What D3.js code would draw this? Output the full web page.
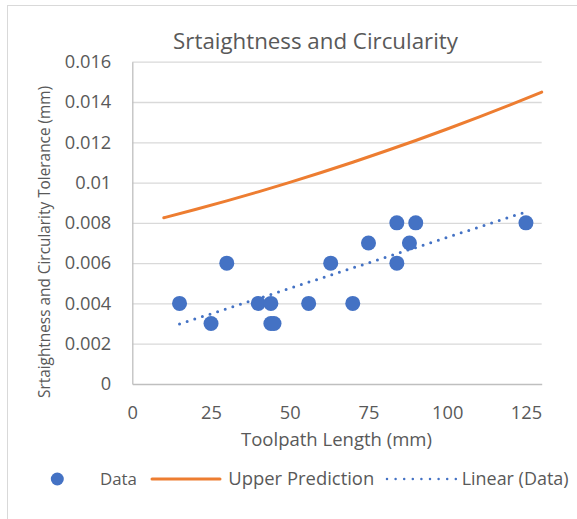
<!DOCTYPE html>
<html>
<head>
<meta charset="utf-8">
<script src="https://cdn.jsdelivr.net/npm/d3@7"></script>
<style>
  body { margin: 0; background: #fff; }
  svg text { font-family: "Open Sans", Lato, sans-serif; fill: #595959; }
</style>
</head>
<body>
<svg id="chart" width="577" height="519"></svg>
<script>
// Measured samples: toolpath length (mm) vs. straightness/circularity tolerance (mm)
const toolpathLength = [15, 25, 30, 40, 44, 44, 45, 56, 63, 70, 75, 84, 84, 88, 90, 125];
const tolerance = [0.004, 0.003, 0.006, 0.004, 0.004, 0.003, 0.003, 0.004, 0.006, 0.004, 0.007, 0.008, 0.006, 0.007, 0.008, 0.008];

// Upper prediction bound
const upperLength = [10, 20, 30, 40, 50, 60, 70, 80, 90, 100, 110, 120, 130];
const upperTolerance = [0.00825, 0.00866, 0.00909, 0.00954, 0.01001, 0.0105, 0.01101, 0.01154, 0.01209, 0.01266, 0.01325, 0.01386, 0.01449];

// Axis ticks
const xTicks = [0, 25, 50, 75, 100, 125];
const yTicks = [0, 0.002, 0.004, 0.006, 0.008, 0.01, 0.012, 0.014, 0.016];
const yTickLabels = ["0", "0.002", "0.004", "0.006", "0.008", "0.01", "0.012", "0.014", "0.016"];

const blue = "#4472C4", orange = "#ED7D31", grid = "#d9d9d9", axisGrey = "#bfbfbf";

const svg = d3.select("#chart");
const plot = { left: 132.3, right: 541.7, top: 61.7, bottom: 384 };

const x = d3.scaleLinear().domain([0, 130]).range([plot.left, plot.right]);
const y = d3.scaleLinear().domain([0, 0.016]).range([plot.bottom, plot.top]);

// scale a text's font size so it spans the given width
function fit(sel, width) {
  const fs = +sel.attr("font-size");
  const w = sel.node().getComputedTextLength();
  sel.attr("font-size", (fs * width / w).toFixed(2));
  return sel;
}

// chart frame
svg.append("rect")
  .attr("x", 7.5).attr("y", 5.5).attr("width", 640).attr("height", 640)
  .attr("fill", "#fff").attr("stroke", grid).attr("stroke-width", 1);

// horizontal gridlines
svg.append("g")
  .attr("transform", `translate(${plot.left},0)`)
  .call(d3.axisLeft(y).tickValues(yTicks.slice(1)).tickSize(-(plot.right - plot.left)).tickFormat(""))
  .call(g => g.select(".domain").remove())
  .call(g => g.selectAll("line").attr("stroke", grid).attr("stroke-width", 1.3));

// tick label size from the widest y label
const probe = svg.append("text").attr("font-size", 16).text("0.016");
fit(probe, 46.5);
const tickSize = +probe.attr("font-size");
probe.remove();

// y axis labels
svg.append("g")
  .attr("transform", `translate(${plot.left},0)`)
  .call(d3.axisLeft(y).tickValues(yTicks).tickSize(0).tickPadding(21)
    .tickFormat((d, i) => yTickLabels[i]))
  .call(g => g.select(".domain").attr("stroke", axisGrey).attr("stroke-width", 1.3))
  .call(g => g.selectAll("text").attr("font-size", tickSize).attr("font-family", null).attr("fill", "#595959"));

// x axis
svg.append("g")
  .attr("transform", `translate(0,${plot.bottom})`)
  .call(d3.axisBottom(x).tickValues(xTicks).tickSize(0).tickPadding(22))
  .call(g => g.select(".domain").attr("stroke", axisGrey).attr("stroke-width", 1.3))
  .call(g => g.selectAll("text").attr("font-size", tickSize).attr("font-family", null).attr("fill", "#595959"));
svg.selectAll(".tick text").style("font-family", "'Open Sans', Lato, sans-serif");

// upper prediction curve
const upperPts = upperLength.map((d, i) => [d, upperTolerance[i]]);
svg.append("path")
  .datum(upperPts)
  .attr("fill", "none").attr("stroke", orange).attr("stroke-width", 3)
  .attr("stroke-linecap", "round")
  .attr("d", d3.line().x(d => x(d[0])).y(d => y(d[1])).curve(d3.curveNatural));

// data points
const pts = toolpathLength.map((d, i) => [d, tolerance[i]]);
svg.append("g").selectAll("circle")
  .data(pts).join("circle")
  .attr("cx", d => x(d[0])).attr("cy", d => y(d[1]))
  .attr("r", 7.5).attr("fill", blue);

// least-squares linear trendline over the data range
const mx = d3.mean(toolpathLength), my = d3.mean(tolerance);
const sxy = d3.sum(pts, d => (d[0] - mx) * (d[1] - my));
const sxx = d3.sum(pts, d => (d[0] - mx) ** 2);
const slope = sxy / sxx, intercept = my - slope * mx;
const [xmin, xmax] = d3.extent(toolpathLength);
svg.append("line")
  .attr("x1", x(xmin)).attr("y1", y(intercept + slope * xmin))
  .attr("x2", x(xmax)).attr("y2", y(intercept + slope * xmax))
  .attr("stroke", blue).attr("stroke-width", 3)
  .attr("stroke-linecap", "round").attr("stroke-dasharray", "0 8");

// titles
fit(svg.append("text")
  .attr("x", 315.5).attr("y", 49).attr("text-anchor", "middle")
  .attr("font-size", 20).text("Srtaightness and Circularity"), 285);

fit(svg.append("text")
  .attr("x", 336.5).attr("y", 446).attr("text-anchor", "middle")
  .attr("font-size", 18).text("Toolpath Length (mm)"), 191);

fit(svg.append("text")
  .attr("transform", "translate(50,242) rotate(-90)")
  .attr("text-anchor", "middle")
  .attr("font-size", 16).text("Srtaightness and Circularity Tolerance (mm)"), 312);

// legend
const leg = svg.append("g");
const ly = 479;
leg.append("circle").attr("cx", 57.3).attr("cy", ly).attr("r", 6.5).attr("fill", blue);
fit(leg.append("text").attr("x", 100).attr("y", ly + 6).attr("font-size", 18).text("Data"), 37);
leg.append("line").attr("x1", 152).attr("x2", 220).attr("y1", ly).attr("y2", ly)
  .attr("stroke", orange).attr("stroke-width", 3).attr("stroke-linecap", "round");
fit(leg.append("text").attr("x", 228.3).attr("y", ly + 6).attr("font-size", 18).text("Upper Prediction"), 146);
leg.append("line").attr("x1", 387).attr("x2", 456).attr("y1", ly).attr("y2", ly)
  .attr("stroke", blue).attr("stroke-width", 2.5)
  .attr("stroke-linecap", "round").attr("stroke-dasharray", "0 8.6");
fit(leg.append("text").attr("x", 461.7).attr("y", ly + 6).attr("font-size", 18).text("Linear (Data)"), 107);
</script>
</body>
</html>
